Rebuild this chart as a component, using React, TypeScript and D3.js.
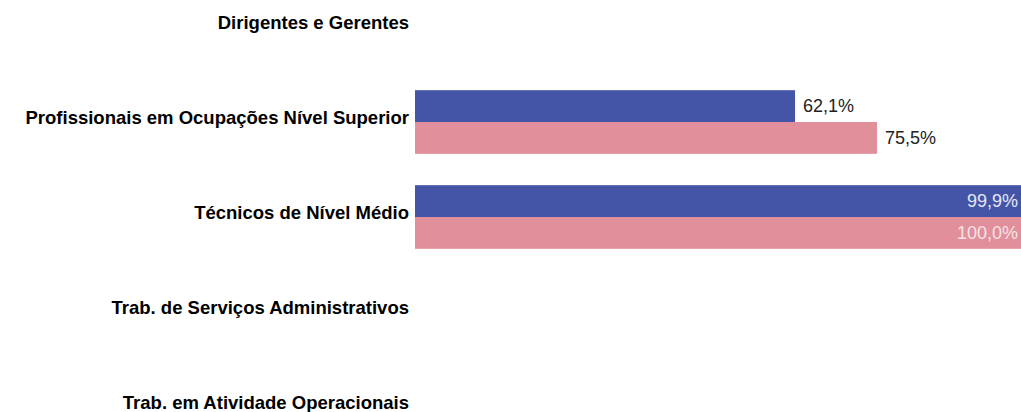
import React from "react";
import * as d3 from "d3";

const categories = [
  "Dirigentes e Gerentes",
  "Profissionais em Ocupações Nível Superior",
  "Técnicos de Nível Médio",
  "Trab. de Serviços Administrativos",
  "Trab. em Atividade Operacionais",
];
const seriesA: (number | null)[] = [null, 62.1, 99.9, null, null];
const seriesB: (number | null)[] = [null, 75.5, 100.0, null, null];
const seriesKeys = ["A", "B"];
const colors = ["#4455A8", "#E08F9B"];
const insideColors = ["#E6E8F4", "#F6E2E5"];

const W = 1021;
const H = 412;

export default function App() {
  const y = d3
    .scaleBand<string>()
    .domain(categories)
    .range([-20.5, 454.5])
    .paddingInner(0.33)
    .paddingOuter(0.165);
  const inner = d3.scaleBand<string>().domain(seriesKeys).range([0, y.bandwidth()]);
  const x = d3.scaleLinear().domain([0, 100]).range([415, 1027]);
  const fmt = (v: number) => v.toFixed(1).replace(".", ",") + "%";
  const series = [seriesA, seriesB];

  return (
    <div style={{ position: "absolute", left: 0, top: 0 }}>
      <svg width={W} height={H} style={{ display: "block", background: "#fff" }}>
        {categories.map((c) => (
          <text
            key={c}
            x={409}
            y={(y(c) ?? 0) + y.bandwidth() / 2 - 4.5}
            dy="0.35em"
            textAnchor="end"
            fontFamily="'Liberation Sans', Arial, sans-serif"
            fontWeight="bold"
            fontSize={18.5}
            fill="#000"
          >
            {c}
          </text>
        ))}
        {series.map((s, si) =>
          s.map((v, ci) => {
            if (v == null) return null;
            const top = (y(categories[ci]) ?? 0) + (inner(seriesKeys[si]) ?? 0);
            const h = inner.bandwidth();
            const x1 = x(v);
            const inside = v > 90;
            return (
              <g key={`${si}-${ci}`}>
                <rect x={x(0)} y={top} width={x1 - x(0)} height={h} fill={colors[si]} />
                <text
                  x={inside ? Math.min(x1, W) - 3 : x1 + 8}
                  y={top + h / 2}
                  dy="0.35em"
                  textAnchor={inside ? "end" : "start"}
                  fontFamily="'Liberation Sans', Arial, sans-serif"
                  fontSize={18}
                  fill={inside ? insideColors[si] : "#222"}
                >
                  {fmt(v)}
                </text>
              </g>
            );
          })
        )}
      </svg>
    </div>
  );
}
